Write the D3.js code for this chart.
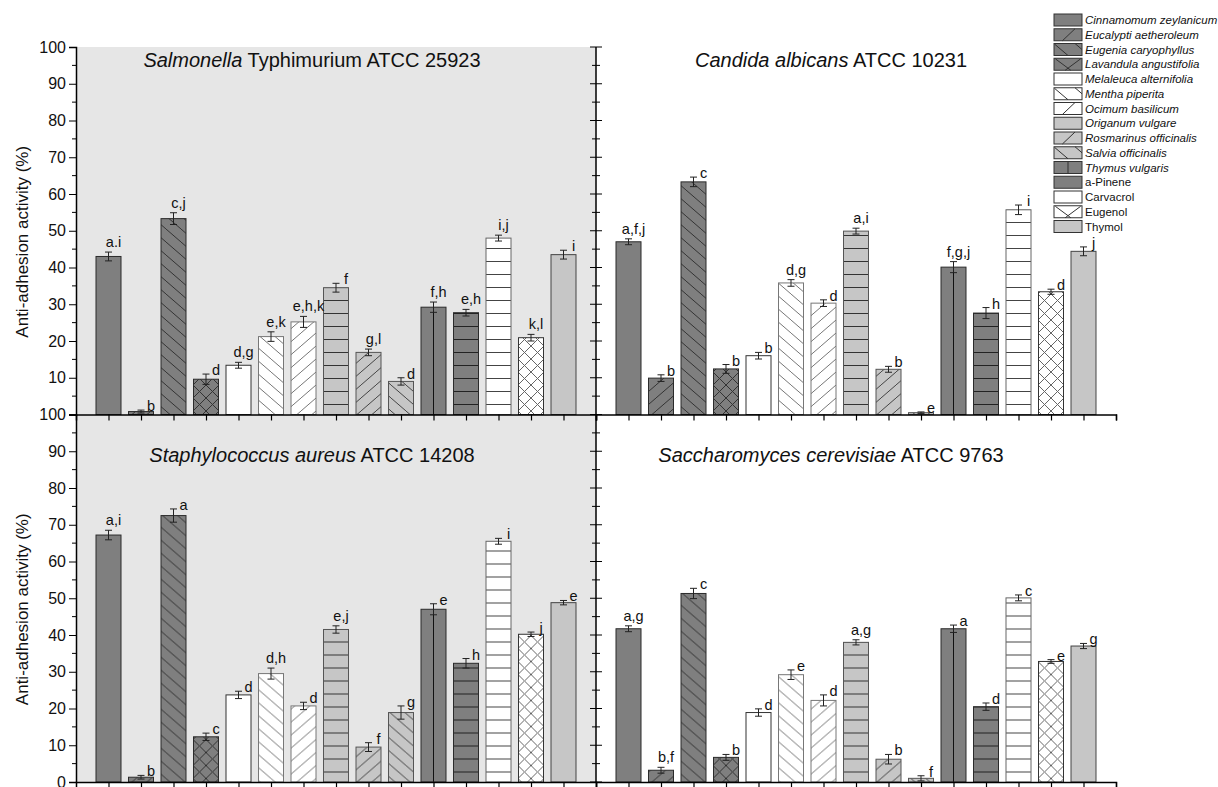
<!DOCTYPE html>
<html>
<head>
<meta charset="utf-8">
<script src="https://cdnjs.cloudflare.com/ajax/libs/d3/7.8.5/d3.min.js"></script>
<style>
  body { margin: 0; background: #fff; }
  svg text { font-family: Arial, "Liberation Sans", sans-serif; fill: #111; }
</style>
</head>
<body>
<div id="chart"></div>
<script>
// treatments, in the order of the bars
var oils = ["Cinnamomum zeylanicum", "Eucalypti aetheroleum", "Eugenia caryophyllus",
  "Lavandula angustifolia", "Melaleuca alternifolia", "Mentha piperita", "Ocimum basilicum",
  "Origanum vulgare", "Rosmarinus officinalis", "Salvia officinalis", "Thymus vulgaris"];
var compounds = ["a-Pinene", "Carvacrol", "Eugenol", "Thymol"];
var treatments = oils.concat(compounds);

// Salmonella Typhimurium ATCC 25923
var salmonellaValues = [43.0, 0.8, 53.3, 9.6, 13.4, 21.2, 25.2, 34.5, 16.9, 9.0, 29.2, 27.7, 48.0, 20.9, 43.5];
var salmonellaErrors = [1.2, 0.4, 1.6, 1.4, 0.8, 1.3, 1.5, 1.2, 0.9, 1.0, 1.4, 0.9, 0.8, 0.9, 1.2];
var salmonellaLetters = ["a.i", "b", "c,j", "d", "d,g", "e,k", "e,h,k", "f", "g,l", "d", "f,h", "e,h", "i,j", "k,l", "i"];

// Candida albicans ATCC 10231
var candidaValues = [47.0, 9.9, 63.3, 12.4, 16.0, 35.8, 30.3, 49.9, 12.3, 0.5, 40.1, 27.6, 55.7, 33.4, 44.4];
var candidaErrors = [0.8, 0.9, 1.3, 1.2, 0.9, 0.9, 0.9, 0.8, 0.8, 0.2, 1.5, 1.5, 1.3, 0.7, 1.2];
var candidaLetters = ["a,f,j", "b", "c", "b", "b", "d,g", "d", "a,i", "b", "e", "f,g,j", "h", "i", "d", "j"];

// Staphylococcus aureus ATCC 14208
var staphValues = [67.2, 1.3, 72.5, 12.3, 23.7, 29.5, 20.7, 41.5, 9.5, 18.9, 47.0, 32.3, 65.5, 40.2, 48.8];
var staphErrors = [1.3, 0.5, 1.8, 1.0, 1.0, 1.5, 1.0, 1.0, 1.2, 1.8, 1.5, 1.3, 0.8, 0.6, 0.6];
var staphLetters = ["a,i", "b", "a", "c", "d", "d,h", "d", "e,j", "f", "g", "e", "h", "i", "j", "e"];

// Saccharomyces cerevisiae ATCC 9763
var yeastValues = [41.7, 3.2, 51.3, 6.7, 18.9, 29.2, 22.2, 38.0, 6.2, 1.0, 41.7, 20.5, 50.1, 32.8, 37.0];
var yeastErrors = [0.8, 0.8, 1.4, 0.8, 1.0, 1.3, 1.5, 0.7, 1.3, 0.7, 1.0, 1.0, 0.8, 0.5, 0.7];
var yeastLetters = ["a,g", "b,f", "c", "b", "d", "e", "d", "a,g", "b", "f", "a", "d", "c", "e", "g"];

var yTicks = [0, 10, 20, 30, 40, 50, 60, 70, 80, 90, 100];
var yLabel = "Anti-adhesion activity (%)";

// bar styles: fill, hatch kind, hatch colour, outline colour
var fills = ["#7f7f7f", "#7f7f7f", "#7f7f7f", "#7f7f7f", "#ffffff", "#ffffff", "#ffffff",
  "#c6c6c6", "#c6c6c6", "#c6c6c6", "#7f7f7f", "#7f7f7f", "#ffffff", "#ffffff", "#c6c6c6"];
var hatches = ["none", "fwd", "back", "cross", "none", "back", "fwd",
  "horiz", "fwd", "back", "vert", "horiz", "horiz", "cross", "none"];
var hatchColors = ["#333", "#333", "#333", "#333", "#777", "#777", "#777",
  "#333", "#444", "#444", "#111", "#222", "#444", "#666", "#444"];
var outlines = ["#2b2b2b", "#2b2b2b", "#2b2b2b", "#2b2b2b", "#333", "#777", "#777",
  "#555", "#555", "#555", "#2b2b2b", "#2b2b2b", "#666", "#333", "#444"];

var panels = [
  {title: [["Salmonella", true], [" Typhimurium ATCC 25923", false]], values: salmonellaValues,
    errors: salmonellaErrors, letters: salmonellaLetters, col: 0, row: 0},
  {title: [["Candida albicans", true], [" ATCC 10231", false]], values: candidaValues,
    errors: candidaErrors, letters: candidaLetters, col: 1, row: 0},
  {title: [["Staphylococcus aureus", true], [" ATCC 14208", false]], values: staphValues,
    errors: staphErrors, letters: staphLetters, col: 0, row: 1},
  {title: [["Saccharomyces cerevisiae", true], [" ATCC 9763", false]], values: yeastValues,
    errors: yeastErrors, letters: yeastLetters, col: 1, row: 1}
];

// layout
var W = 1218, H = 787;
var plotLeft = 76, panelW = 520, plotTop = 47, panelH = 367.5;
var titleX = [236, 235];   // title centre inside the panel, per column
var titleY = [20, 47];

var svg = d3.select("#chart").append("svg")
  .attr("width", W).attr("height", H);

var x = d3.scaleLinear().domain([0, 16]).range([0, panelW]);
var y = d3.scaleLinear().domain([0, 100]).range([panelH, 0]);
var step = x(1) - x(0);
var barW = 25;

// hatch patterns
var defs = svg.append("defs");
treatments.forEach(function(t, i) {
  var kind = hatches[i];
  if (kind == "none") return;
  var p = defs.append("pattern").attr("id", "hatch" + i).attr("patternUnits", "userSpaceOnUse");
  var pw = 15, ph = 13;
  if (kind == "cross") { pw = 13; ph = 13; }
  if (kind == "horiz") { pw = 10; ph = 13; }
  if (kind == "vert") { pw = step; ph = 10; p.attr("x", -step / 2); }
  p.attr("width", pw).attr("height", ph);
  p.append("rect").attr("width", pw).attr("height", ph).attr("fill", fills[i]);
  var e = 0.15, d = [];
  if (kind == "fwd" || kind == "cross")
    d.push("M" + (-e * pw) + "," + (ph + e * ph) + "L" + (pw + e * pw) + "," + (-e * ph));
  if (kind == "back" || kind == "cross")
    d.push("M" + (-e * pw) + "," + (-e * ph) + "L" + (pw + e * pw) + "," + (ph + e * ph));
  if (kind == "horiz") d.push("M0," + (ph / 2) + "H" + pw);
  if (kind == "vert") d.push("M" + (pw / 2) + ",0V" + ph);
  p.append("path").attr("d", d.join(""))
    .attr("stroke", hatchColors[i]).attr("stroke-width", 1).attr("fill", "none");
});

// grey background behind the left column
svg.append("rect")
  .attr("x", plotLeft).attr("y", plotTop)
  .attr("width", panelW).attr("height", panelH * 2)
  .attr("fill", "#e6e6e6");

panels.forEach(function(pn) {
  var g = svg.append("g")
    .attr("transform", "translate(" + (plotLeft + pn.col * panelW) + "," + (plotTop + pn.row * panelH) + ")");

  // title
  var tt = g.append("text")
    .attr("x", titleX[pn.col]).attr("y", titleY[pn.row])
    .attr("text-anchor", "middle")
    .style("font-size", "20px");
  pn.title.forEach(function(part) {
    tt.append("tspan").text(part[0]).style("font-style", part[1] ? "italic" : "normal");
  });

  // bars
  g.selectAll("rect.bar").data(pn.values).enter().append("rect")
    .attr("class", "bar")
    .attr("x", function(d, i) { return x(i + 1) - barW / 2; })
    .attr("y", function(d) { return y(d); })
    .attr("width", barW)
    .attr("height", function(d) { return y(0) - y(d); })
    .attr("fill", function(d, i) { return hatches[i] == "none" ? fills[i] : "url(#hatch" + i + ")"; })
    .attr("stroke", function(d, i) { return outlines[i]; })
    .attr("stroke-width", 1);

  // error bars
  var eb = g.selectAll("g.err").data(pn.values).enter().append("g")
    .attr("class", "err")
    .attr("stroke", "#222").attr("stroke-width", 1);
  eb.append("line")
    .attr("x1", function(d, i) { return x(i + 1); })
    .attr("x2", function(d, i) { return x(i + 1); })
    .attr("y1", function(d, i) { return y(d - pn.errors[i]); })
    .attr("y2", function(d, i) { return y(d + pn.errors[i]); });
  [-1, 1].forEach(function(sgn) {
    eb.append("line")
      .attr("x1", function(d, i) { return x(i + 1) - 3.5; })
      .attr("x2", function(d, i) { return x(i + 1) + 3.5; })
      .attr("y1", function(d, i) { return y(d + sgn * pn.errors[i]); })
      .attr("y2", function(d, i) { return y(d + sgn * pn.errors[i]); });
  });

  // significance letters
  g.selectAll("text.letter").data(pn.letters).enter().append("text")
    .attr("class", "letter")
    .attr("x", function(d, i) { return x(i + 1) + (d.length == 1 ? 10 : 5); })
    .attr("y", function(d, i) {
      var yt = y(pn.values[i] + pn.errors[i]);
      return d.length == 1 ? yt + 1 : yt - 5;
    })
    .attr("text-anchor", "middle")
    .style("font-size", "14.5px")
    .text(function(d) { return d; });

  // x axis with ticks under every bar
  var xAxis = d3.axisBottom(x).tickValues(d3.range(1, 17)).tickSize(6).tickFormat("");
  g.append("g").attr("transform", "translate(0," + panelH + ")").call(xAxis)
    .call(function(a) {
      a.select(".domain").attr("stroke", "#000").attr("stroke-width", 1.5);
      a.selectAll(".tick line").attr("stroke", "#000").attr("stroke-width", 1.2);
    });

  // y axes
  var minor = d3.range(5, 100, 10);
  if (pn.col == 0) {
    var yAxis = d3.axisLeft(y).tickValues(pn.row == 0 ? yTicks.slice(1) : yTicks)
      .tickSize(7).tickPadding(3);
    g.append("g").call(yAxis).call(function(a) {
      a.select(".domain").attr("stroke", "#000").attr("stroke-width", 1.5);
      a.selectAll(".tick line").attr("stroke", "#000");
      a.selectAll(".tick text").style("font-size", "16px").attr("fill", "#111");
    });
    g.append("g").selectAll("line").data(minor).enter().append("line")
      .attr("x1", -4).attr("x2", 0)
      .attr("y1", function(d) { return y(d); }).attr("y2", function(d) { return y(d); })
      .attr("stroke", "#000");

    g.append("text")
      .attr("transform", "translate(" + (22 - plotLeft) + "," + (panelH / 2 + 11) + ") rotate(-90)")
      .attr("text-anchor", "middle")
      .attr("dy", "0.35em")
      .style("font-size", "17px")
      .text(yLabel);
  } else {
    // shared vertical line between the columns, ticks on both sides
    g.append("line").attr("y1", 0).attr("y2", panelH).attr("stroke", "#000").attr("stroke-width", 1.5);
    var all = yTicks.concat(minor);
    g.append("g").selectAll("line").data(all).enter().append("line")
      .attr("x1", function(d) { return d % 10 == 0 ? -6 : -4; })
      .attr("x2", function(d) { return d % 10 == 0 ? 6 : 4; })
      .attr("y1", function(d) { return y(d); }).attr("y2", function(d) { return y(d); })
      .attr("stroke", "#000");
  }
});

// legend
var legendX = 1054, legendY = 20, rowH = 14.75, boxW = 28, boxH = 12;
var legendLines = {
  fwd: [[0.3, 1, 0.75, 0]],
  back: [[0.02, 0.05, 0.5, 1], [0.75, 0, 1, 0.5]],
  cross: [[0.05, 0.05, 0.6, 1], [0.4, 1, 0.95, 0.05]],
  vert: [[0.5, 0, 0.5, 1]]
};
var lg = svg.append("g").selectAll("g").data(treatments).enter().append("g")
  .attr("transform", function(d, i) { return "translate(" + legendX + "," + (legendY + i * rowH) + ")"; });
lg.append("rect")
  .attr("x", 0).attr("y", -boxH / 2).attr("width", boxW).attr("height", boxH)
  .attr("fill", function(d, i) { return fills[i]; })
  .attr("stroke", "#333").attr("stroke-width", 1);
lg.each(function(d, i) {
  var segs = legendLines[hatches[i]] || [];
  var sel = d3.select(this);
  segs.forEach(function(s) {
    sel.append("line")
      .attr("x1", s[0] * boxW).attr("y1", -boxH / 2 + s[1] * boxH)
      .attr("x2", s[2] * boxW).attr("y2", -boxH / 2 + s[3] * boxH)
      .attr("stroke", "#333").attr("stroke-width", 1);
  });
});
lg.append("text")
  .attr("x", boxW + 3).attr("y", 0).attr("dy", "0.35em")
  .style("font-size", "11.5px")
  .style("font-style", function(d, i) { return i < oils.length ? "italic" : "normal"; })
  .text(function(d) { return d; });
</script>
</body>
</html>
